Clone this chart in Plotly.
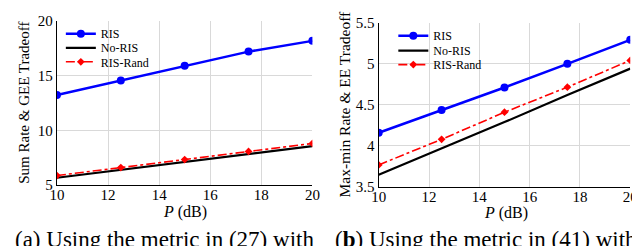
import plotly.graph_objects as go

P = [10, 12.5, 15, 17.5, 20]
x_ticks = [10, 12, 14, 16, 18, 20]

# Left panel: Sum Rate & GEE Tradeoff
a_ris = [13.22, 14.55, 15.9, 17.18, 18.16]
a_noris = [5.68, 6.39, 7.1, 7.82, 8.56]
a_rand = [5.88, 6.61, 7.34, 8.08, 8.81]
a_yticks = [5, 10, 15, 20]

# Right panel: Max-min Rate & EE Tradeoff
b_ris = [4.16, 4.436, 4.711, 4.998, 5.29]
b_noris = [3.65, 3.97, 4.29, 4.62, 4.94]
b_rand = [3.77, 4.08, 4.41, 4.715, 5.04]
b_yticks = [3.5, 4, 4.5, 5, 5.5]
b_yticktext = ["3.5", "4", "4.5", "5", "5.5"]

names = ["RIS", "No-RIS", "RIS-Rand"]
SERIF = "Liberation Serif"
W, H = 640, 246

fig = go.Figure()

def add_panel(xa, ya, legs, ris, noris, rand):
    fig.add_trace(go.Scatter(x=P, y=ris, name=names[0], mode="lines+markers",
                             line=dict(color="#0000ff", width=2.5),
                             marker=dict(symbol="circle", size=8, color="#0000ff"),
                             xaxis=xa, yaxis=ya, legend=legs[0]))
    fig.add_trace(go.Scatter(x=P, y=noris, name=names[1], mode="lines",
                             line=dict(color="black", width=2.2),
                             xaxis=xa, yaxis=ya, legend=legs[1]))
    fig.add_trace(go.Scatter(x=P, y=rand, name=names[2], mode="lines+markers",
                             line=dict(color="#ff0000", width=1.6, dash="dashdot"),
                             marker=dict(symbol="diamond", size=6, color="#ff0000"),
                             xaxis=xa, yaxis=ya, legend=legs[2]))

add_panel("x", "y", ["legend", "legend2", "legend3"], a_ris, a_noris, a_rand)
add_panel("x2", "y2", ["legend4", "legend5", "legend6"], b_ris, b_noris, b_rand)

axis_common = dict(showgrid=True, gridcolor="#d9d9d9", gridwidth=1,
                   showline=True, linecolor="black", linewidth=1.2,
                   zeroline=False, ticks="", ticklabeloverflow="allow",
                   tickfont=dict(family=SERIF, size=15, color="black"))

def leg(xpx, ypx):
    return dict(x=xpx / W, y=1 - ypx / H, xanchor="left", yanchor="middle",
                bgcolor="rgba(0,0,0,0)", borderwidth=0, itemwidth=30,
                font=dict(family=SERIF, size=12, color="black"))

fig.update_layout(
    width=W, height=H,
    margin=dict(l=0, r=0, t=0, b=0),
    paper_bgcolor="white", plot_bgcolor="white",
    showlegend=True,
    xaxis=dict(domain=[42 / W, 304 / W], range=[10, 20], tickvals=x_ticks,
               anchor="y", ticklabelstandoff=-4, **axis_common),
    yaxis=dict(domain=[1 - 181 / H, 1 - 5 / H], range=[5, 20], tickvals=a_yticks,
               anchor="x", **axis_common),
    xaxis2=dict(domain=[372 / W, 630 / W], range=[10, 20], tickvals=x_ticks,
                anchor="y2", ticklabelstandoff=-4, **axis_common),
    yaxis2=dict(domain=[1 - 183 / H, 1 - 7 / H], range=[3.5, 5.5], tickvals=b_yticks,
                ticktext=b_yticktext, anchor="x2", **axis_common),
    legend=leg(46, 19), legend2=leg(46, 34), legend3=leg(46, 49),
    legend4=leg(387, 21), legend5=leg(387, 37), legend6=leg(387, 52),
)

# white legend boxes hiding the grid behind the legend entries
for x0, y0, x1, y1 in [(49, 9, 132, 57), (389, 11, 470, 60)]:
    fig.add_shape(type="rect", xref="paper", yref="paper",
                  x0=x0 / W, x1=x1 / W, y0=1 - y1 / H, y1=1 - y0 / H,
                  fillcolor="white", line=dict(width=0), layer="between")

ann = []
# y-axis titles
ann.append(dict(text="Sum Rate & GEE Tradeoff", x=8 / W, y=1 - 93 / H, xref="paper", yref="paper",
                showarrow=False, textangle=-90, font=dict(family=SERIF, size=15, color="black"),
                xanchor="center", yanchor="middle"))
ann.append(dict(text="Max-min Rate & EE Tradeoff", x=337 / W, y=1 - 94 / H, xref="paper", yref="paper",
                showarrow=False, textangle=-90, font=dict(family=SERIF, size=15.5, color="black"),
                xanchor="center", yanchor="middle"))
# x-axis titles
ann.append(dict(text="<i>P</i> (dB)", x=173 / W, y=1 - 210 / H, xref="paper", yref="paper",
                showarrow=False, font=dict(family=SERIF, size=16, color="black"),
                xanchor="center", yanchor="middle"))
ann.append(dict(text="<i>P</i> (dB)", x=503 / W, y=1 - 211 / H, xref="paper", yref="paper",
                showarrow=False, font=dict(family=SERIF, size=16, color="black"),
                xanchor="center", yanchor="middle"))
# captions (cut off by the bottom edge, as in the reference)
ann.append(dict(text="(a) Using the metric in (27) with", x=-3 / W, y=1 - 224 / H, xref="paper", yref="paper",
                showarrow=False, font=dict(family=SERIF, size=23, color="black"),
                xanchor="left", yanchor="top"))
ann.append(dict(text="(<b>b</b>) Using the metric in (41) with", x=325 / W, y=1 - 224 / H, xref="paper", yref="paper",
                showarrow=False, font=dict(family=SERIF, size=23, color="black"),
                xanchor="left", yanchor="top"))
fig.update_layout(annotations=ann)

fig.write_html("out.html")
